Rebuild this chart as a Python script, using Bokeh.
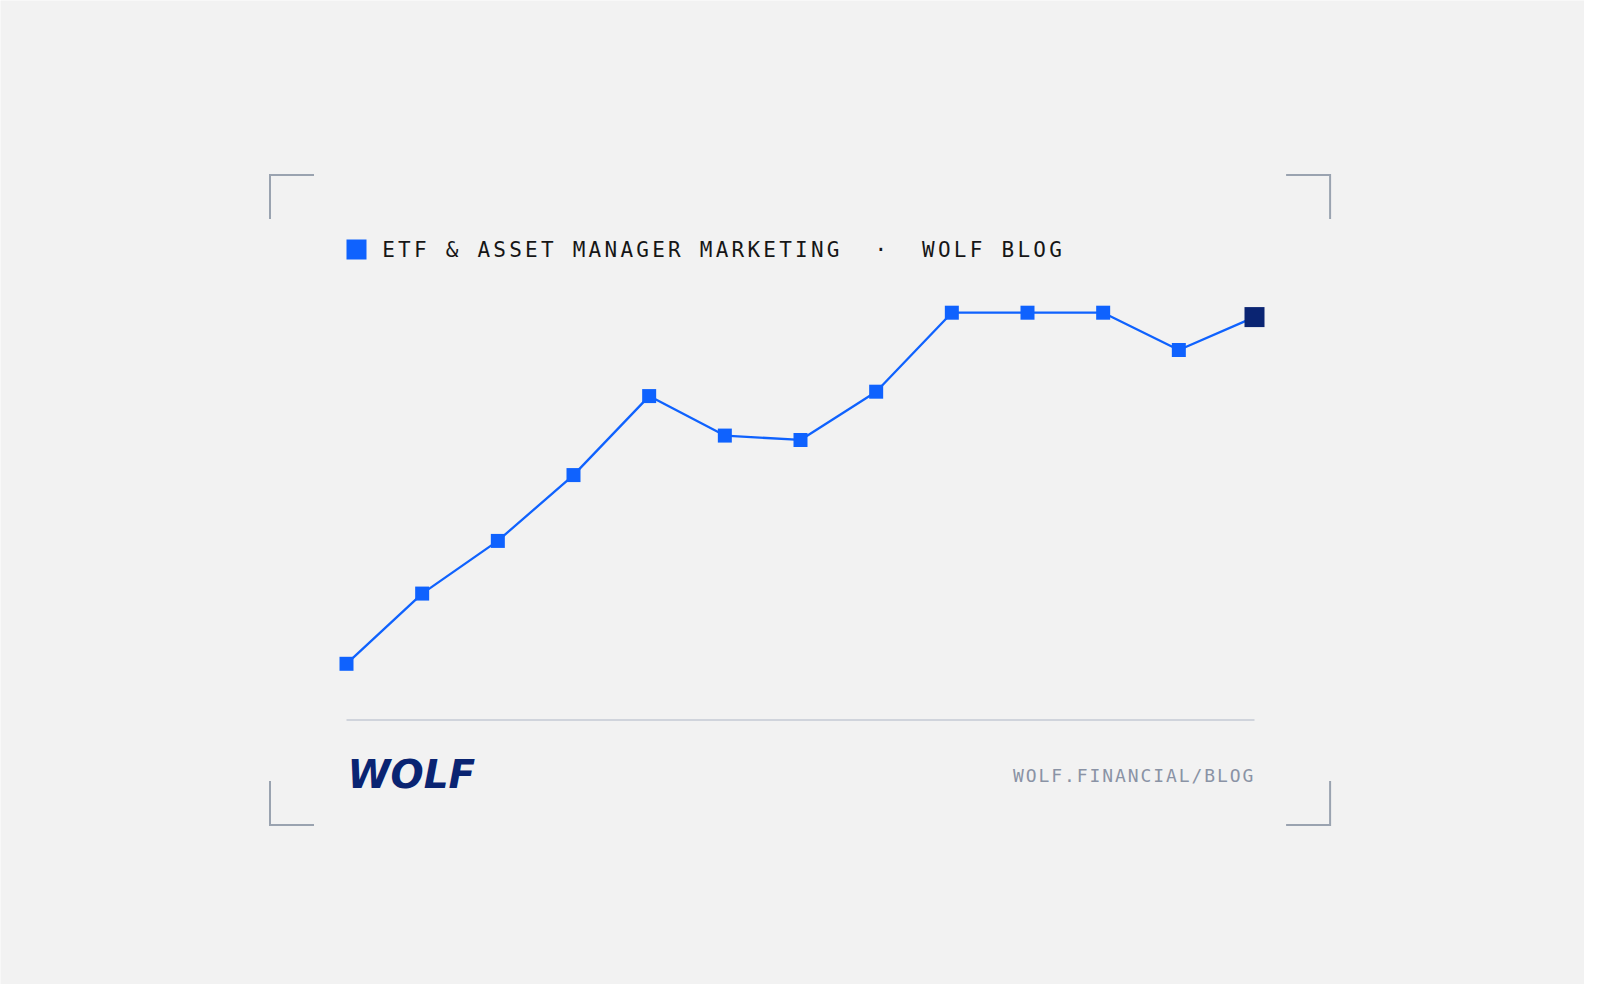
from bokeh.plotting import figure
from bokeh.models import Range1d
from bokeh.core.properties import value
from bokeh.embed import file_html
from bokeh.resources import INLINE

# ---------------- data ----------------
periods = list(range(13))
values = [20, 36, 48, 63, 81, 72, 71, 82, 100, 100, 100, 91.5, 99]
title_text = "ETF & ASSET MANAGER MARKETING  \u00b7  WOLF BLOG"
footer_text = "WOLF.FINANCIAL/BLOG"
logo_text = "WOLF"

# ---------------- layout / style ----------------
W, H = 1584, 984
BG = "#f2f2f2"
BLUE = "#0f62fe"
NAVY = "#0a2472"
BRACKET = "#9aa3b0"
SEP = "#c5cad5"
TXT = "#161616"
FOOT = "#8a93a5"

PLOT_L, PLOT_R = 346.0, 1254.0      # pixel columns of first / last period
PLOT_TOP, PLOT_BOT = 312.2, 663.3   # pixel rows of max / min value

vmin, vmax = min(values), max(values)
dx = (PLOT_R - PLOT_L) / (len(periods) - 1)
k = (PLOT_BOT - PLOT_TOP) / (vmax - vmin)

x_range = Range1d(periods[0] - PLOT_L / dx, periods[0] + (W - PLOT_L) / dx)
y_range = Range1d(vmin - (H - PLOT_BOT) / k, vmin + PLOT_BOT / k)

p = figure(width=W, height=H, x_range=x_range, y_range=y_range,
           output_backend="svg", toolbar_location=None,
           x_axis_location=None, y_axis_location=None,
           min_border=0, background_fill_color=BG, border_fill_color=BG,
           outline_line_color=None)
p.grid.visible = False
p.extra_x_ranges = {"px": Range1d(0, W)}
p.extra_y_ranges = {"px": Range1d(H, 0)}
PX = dict(x_range_name="px", y_range_name="px")

# corner brackets
BL, BR, BT, BB, ARM = 269.5, 1329.6, 174.5, 824.5, 44
xs = [[BL + ARM, BL, BL], [BR - ARM, BR, BR], [BL + ARM, BL, BL], [BR - ARM, BR, BR]]
ys = [[BT, BT, BT + ARM], [BT, BT, BT + ARM], [BB, BB, BB - ARM], [BB, BB, BB - ARM]]
p.multi_line(xs, ys, line_color=BRACKET, line_width=2, line_join="miter", **PX)

# title: legend square + letter-spaced monospace text
p.scatter([356], [249], marker="square", size=20, fill_color=BLUE, line_color=None, **PX)
T_X0, T_PITCH, T_BASE = 388.0, 15.88, 249.5
tchars = list(title_text)
p.text(x=[T_X0 + i * T_PITCH for i in range(len(tchars))], y=[T_BASE] * len(tchars),
       text=tchars, text_font=value("DejaVu Sans Mono"), text_font_size=value("21px"),
       text_color=TXT, text_align="center", text_baseline="alphabetic", **PX)

# data line
p.line(periods, values, line_color=BLUE, line_width=2.3)
p.scatter(periods[:-1], values[:-1], marker="square", size=14,
          fill_color=BLUE, line_color=None)
p.scatter(periods[-1:], values[-1:], marker="square", size=20,
          fill_color=NAVY, line_color=None)

# separator
p.segment(x0=[PLOT_L], y0=[719.4], x1=[PLOT_R], y1=[719.4],
          line_color=SEP, line_width=1.5, **PX)

# logo
p.text(x=[347], y=[774], text=[logo_text], text_font=value("DejaVu Sans"),
       text_font_style="bold italic", text_font_size=value("39px"),
       text_color=NAVY, text_align="left", text_baseline="alphabetic", **PX)

# footer url
F_X0, F_PITCH, F_BASE = 1018.0, 12.75, 774.7
fchars = list(footer_text)
p.text(x=[F_X0 + i * F_PITCH for i in range(len(fchars))], y=[F_BASE] * len(fchars),
       text=fchars, text_font=value("DejaVu Sans Mono"), text_font_size=value("18px"),
       text_color=FOOT, text_align="center", text_baseline="alphabetic", **PX)

open("out.html", "w").write(file_html(p, INLINE))
